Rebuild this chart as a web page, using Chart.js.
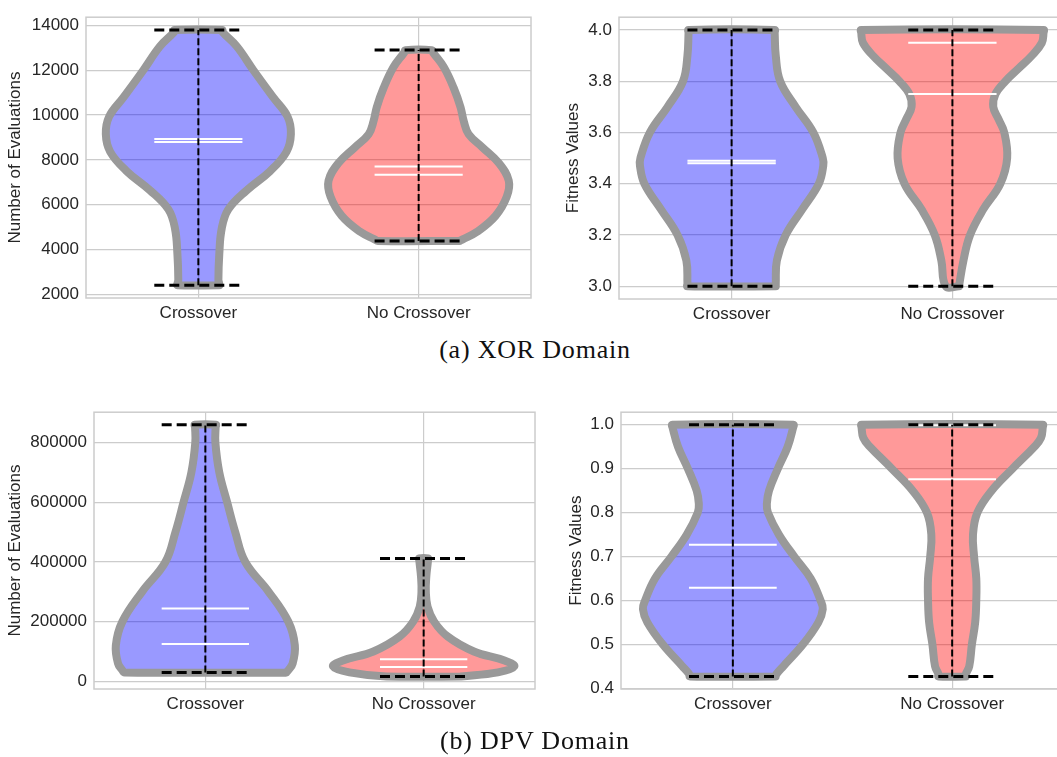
<!DOCTYPE html>
<html lang="en">
<head>
<meta charset="UTF-8">
<title>Crossover vs No Crossover</title>
<script src="https://cdn.jsdelivr.net/npm/chart.js"></script>
<style>
  html, body { margin: 0; padding: 0; background: #fff; overflow: hidden; }
  body { width: 1057px; height: 757px; position: relative; }
  canvas { position: absolute; }
  .caption { position: absolute; width: 500px; text-align: center; font-family: "Liberation Serif", serif; font-size: 26px; letter-spacing: 0.8px; color: #111; line-height: 30px; }
</style>
</head>
<body>
<canvas id="xorEval" width="540" height="335" style="left:0px;top:0px"></canvas>
<canvas id="xorFit" width="530" height="335" style="left:540px;top:0px"></canvas>
<canvas id="dpvEval" width="545" height="335" style="left:0px;top:395px"></canvas>
<canvas id="dpvFit" width="525" height="335" style="left:545px;top:395px"></canvas>
<div class="caption" style="left:285px;top:335px">(a) XOR Domain</div>
<div class="caption" style="left:285px;top:726px">(b) DPV Domain</div>

<script>
const categories = ["Crossover", "No Crossover"];

// (a) XOR - number of evaluations
const xorEvalTicks = [2000, 4000, 6000, 8000, 10000, 12000, 14000];
const xorEvalMin = [2400, 4380];
const xorEvalMax = [13800, 12900];
const xorEvalMean = [8930, 7700];
const xorEvalMedian = [8800, 7330];
const xorEvalCrossY = [2400, 2500, 2643, 3786, 4929, 5786, 6643, 7500, 8357, 9143, 9929, 10786, 12000, 13071, 13700, 13800];
const xorEvalCrossW = [0.095, 0.094, 0.091, 0.095, 0.106, 0.136, 0.22, 0.326, 0.40, 0.42, 0.405, 0.34, 0.25, 0.174, 0.11, 0.108];
const xorEvalNoY = [4380, 4450, 4786, 5500, 6357, 7071, 7857, 8571, 9143, 9714, 10357, 11214, 12143, 12800, 12900];
const xorEvalNoW = [0.185, 0.2, 0.265, 0.349, 0.40, 0.409, 0.364, 0.288, 0.227, 0.205, 0.19, 0.159, 0.114, 0.065, 0.06];

// (a) XOR - fitness values
const xorFitTicks = [3.0, 3.2, 3.4, 3.6, 3.8, 4.0];
const xorFitMin = [3.0, 3.0];
const xorFitMax = [4.0, 4.0];
const xorFitMean = [3.49, 3.75];
const xorFitMedian = [3.48, 3.95];
const xorFitCrossY = [3.0, 3.01, 3.1, 3.2, 3.3, 3.4, 3.47, 3.5, 3.6, 3.7, 3.8, 3.9, 3.99, 4.0];
const xorFitCrossW = [0.2, 0.2, 0.205, 0.245, 0.32, 0.395, 0.415, 0.413, 0.37, 0.29, 0.22, 0.2, 0.195, 0.195];
const xorFitNoY = [3.0, 3.1, 3.2, 3.3, 3.4, 3.5, 3.6, 3.65, 3.7, 3.75, 3.8, 3.85, 3.9, 3.95, 3.99, 4.0];
const xorFitNoW = [0.03, 0.05, 0.08, 0.14, 0.217, 0.248, 0.235, 0.21, 0.185, 0.195, 0.24, 0.30, 0.36, 0.405, 0.413, 0.413];

// (b) DPV - number of evaluations
const dpvEvalTicks = [0, 200000, 400000, 600000, 800000];
const dpvEvalMin = [29400, 16300];
const dpvEvalMax = [860000, 411800];
const dpvEvalMean = [243700, 74100];
const dpvEvalMedian = [124900, 48000];
const dpvEvalCrossY = [29400, 37000, 60000, 120000, 200000, 300000, 400000, 500000, 600000, 700000, 800000, 852000, 860000];
const dpvEvalCrossW = [0.37, 0.38, 0.40, 0.41, 0.38, 0.29, 0.183, 0.137, 0.10, 0.064, 0.046, 0.047, 0.048];
const dpvEvalNoY = [16300, 30000, 50000, 70000, 100000, 150000, 200000, 250000, 300000, 350000, 405000, 411800];
const dpvEvalNoW = [0.17, 0.34, 0.415, 0.37, 0.23, 0.11, 0.048, 0.018, 0.01, 0.012, 0.02, 0.02];

// (b) DPV - fitness values
const dpvFitTicks = [0.4, 0.5, 0.6, 0.7, 0.8, 0.9, 1.0];
const dpvFitMin = [0.427, 0.427];
const dpvFitMax = [1.0, 1.0];
const dpvFitMean = [0.727, 0.876];
const dpvFitMedian = [0.629, 0.999];
const dpvFitCrossY = [0.427, 0.433, 0.45, 0.5, 0.55, 0.58, 0.6, 0.65, 0.7, 0.75, 0.8, 0.82, 0.85, 0.9, 0.95, 0.994, 1.0];
const dpvFitCrossW = [0.195, 0.2, 0.23, 0.32, 0.39, 0.41, 0.40, 0.355, 0.28, 0.21, 0.16, 0.155, 0.165, 0.205, 0.25, 0.275, 0.276];
const dpvFitNoY = [0.427, 0.433, 0.45, 0.5, 0.55, 0.6, 0.65, 0.7, 0.75, 0.8, 0.85, 0.9, 0.95, 0.97, 0.994, 1.0];
const dpvFitNoW = [0.062, 0.063, 0.078, 0.09, 0.105, 0.11, 0.11, 0.1, 0.095, 0.115, 0.18, 0.275, 0.375, 0.405, 0.413, 0.413];

const bodyColors = ["rgba(0,0,255,0.4)", "rgba(255,0,0,0.4)"];
const tickFont = { family: "Liberation Sans", size: 17 };

// frame around the plot area (all four sides, like the matplotlib style)
const framePlugin = {
  id: "frame",
  beforeDatasetsDraw(chart) {
    const { ctx, chartArea: a } = chart;
    ctx.save();
    ctx.strokeStyle = "#cccccc";
    ctx.lineWidth = 1.5;
    ctx.strokeRect(a.left, a.top, a.right - a.left, a.bottom - a.top);
    ctx.restore();
  }
};

function violinPoints(pos, ys, ws) {
  const right = ys.map((y, i) => ({ x: pos + ws[i], y }));
  const left = ys.map((y, i) => ({ x: pos - ws[i], y })).reverse();
  return [...right, ...left, right[0]];
}

function hline(pos, v) {
  return [{ x: pos - 0.2, y: v }, { x: pos + 0.2, y: v }];
}

function makePanel(p) {
  const lo = Math.min(...p.min), hi = Math.max(...p.max);
  const pad = (hi - lo) * 0.05;
  const datasets = [];

  p.shapes.forEach(([ys, ws], i) => {
    datasets.push({
      data: violinPoints(i + 1, ys, ws),
      backgroundColor: bodyColors[i],
      borderColor: "#999999",
      borderWidth: 8,
      borderJoinStyle: "round",
      borderCapStyle: "round",
      fill: "shape",
      tension: 0.4,
      pointRadius: 0,
      order: 2
    });
  });

  categories.forEach((c, i) => {
    const pos = i + 1;
    [p.mean[i], p.median[i]].forEach(v => {
      datasets.push({ data: hline(pos, v), borderColor: "#ffffff", borderWidth: 2, pointRadius: 0, fill: false, order: 1 });
    });
    datasets.push({
      data: [{ x: pos, y: p.min[i] }, { x: pos, y: p.max[i] }],
      borderColor: "#000000", borderWidth: 2, borderDash: [7, 3], pointRadius: 0, fill: false, order: 0
    });
    [p.min[i], p.max[i]].forEach(v => {
      datasets.push({ data: hline(pos, v), borderColor: "#000000", borderWidth: 3, borderDash: [10, 5], pointRadius: 0, fill: false, order: 0 });
    });
  });

  const cv = document.getElementById(p.id);
  const L = parseFloat(cv.style.left), T = parseFloat(cv.style.top);
  const [aL, aT, aR, aB] = p.area;

  new Chart(cv, {
    type: "line",
    data: { datasets },
    options: {
      responsive: false,
      animation: false,
      events: [],
      layout: {
        autoPadding: false,
        padding: { left: 0, top: aT - T, right: L + cv.width - aR, bottom: 0 }
      },
      plugins: { legend: { display: false }, tooltip: { enabled: false } },
      scales: {
        x: {
          type: "linear",
          min: 0.49,
          max: 2.51,
          afterFit: s => { s.height = T + cv.height - aB; },
          afterBuildTicks: s => { s.ticks = categories.map((c, i) => ({ value: i + 1 })); },
          ticks: { callback: v => categories[v - 1], font: tickFont, color: "#262626", padding: 5, maxRotation: 0 },
          grid: { color: "#cccccc", lineWidth: 1.2, drawTicks: false },
          border: { display: false }
        },
        y: {
          type: "linear",
          min: lo - pad,
          max: hi + pad,
          afterFit: s => { s.width = aL - L; },
          afterBuildTicks: s => { s.ticks = p.ticks.map(v => ({ value: v })); },
          ticks: { callback: p.fmt, font: tickFont, color: "#262626", padding: 7 },
          grid: { color: "#cccccc", lineWidth: 1.2, drawTicks: false },
          border: { display: false },
          title: { display: true, text: p.title, font: tickFont, color: "#262626", padding: { top: p.titlePad, bottom: 0 } }
        }
      }
    },
    plugins: [framePlugin]
  });
}

const evalFmt = v => String(v);
const fitFmt = v => v.toFixed(1);

makePanel({ id: "xorEval", area: [86, 5, 531, 298], ticks: xorEvalTicks, fmt: evalFmt, title: "Number of Evaluations", titlePad: 5,
  min: xorEvalMin, max: xorEvalMax, mean: xorEvalMean, median: xorEvalMedian,
  shapes: [[xorEvalCrossY, xorEvalCrossW], [xorEvalNoY, xorEvalNoW]] });
makePanel({ id: "xorFit", area: [619, 6, 1065, 299], ticks: xorFitTicks, fmt: fitFmt, title: "Fitness Values", titlePad: 23,
  min: xorFitMin, max: xorFitMax, mean: xorFitMean, median: xorFitMedian,
  shapes: [[xorFitCrossY, xorFitCrossW], [xorFitNoY, xorFitNoW]] });
makePanel({ id: "dpvEval", area: [94, 405, 535, 689], ticks: dpvEvalTicks, fmt: evalFmt, title: "Number of Evaluations", titlePad: 5,
  min: dpvEvalMin, max: dpvEvalMax, mean: dpvEvalMean, median: dpvEvalMedian,
  shapes: [[dpvEvalCrossY, dpvEvalCrossW], [dpvEvalNoY, dpvEvalNoW]] });
makePanel({ id: "dpvFit", area: [621, 405, 1064, 689], ticks: dpvFitTicks, fmt: fitFmt, title: "Fitness Values", titlePad: 21,
  min: dpvFitMin, max: dpvFitMax, mean: dpvFitMean, median: dpvFitMedian,
  shapes: [[dpvFitCrossY, dpvFitCrossW], [dpvFitNoY, dpvFitNoW]] });
</script>
</body>
</html>
